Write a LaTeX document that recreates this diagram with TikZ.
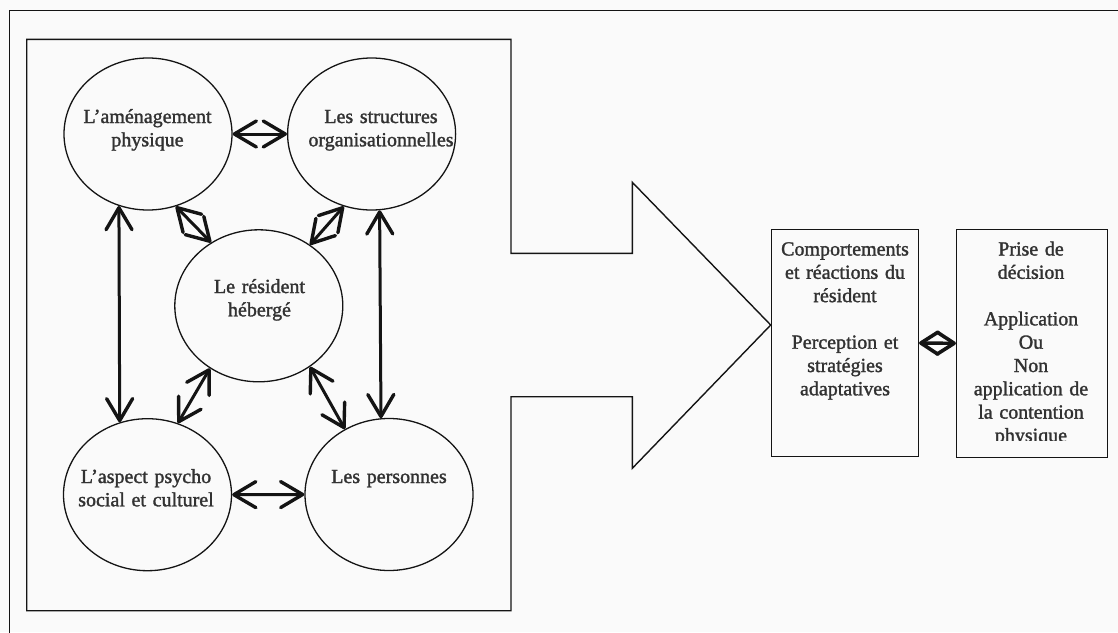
\documentclass[tikz,border=0pt]{standalone}
\usepackage{fontspec}
\setmainfont{Liberation Serif}[FakeBold=1.5]
\usetikzlibrary{arrows.meta,shapes.geometric}
\definecolor{bgc}{RGB}{250,250,250}
\definecolor{ink}{RGB}{20,20,20}
\definecolor{txt}{RGB}{50,50,50}
\begin{document}
\begin{tikzpicture}[x=1pt,y=-1pt,
  bub/.style={ellipse,draw=ink,line width=1.3pt,minimum width=168pt,minimum height=152pt,inner sep=0pt},
  lbl/.style={text width=175pt,align=center,anchor=base,inner sep=0pt,font=\fontsize{20}{23.3}\selectfont,text=txt},
  boxlbl/.style={text width=150pt,align=center,anchor=base,inner sep=0pt,font=\fontsize{20}{23.3}\selectfont,text=txt},
  panel/.style={draw=ink,line width=1.5pt,inner sep=0pt},
  barb/.tip={Straight Barb[length=22pt,width=26pt,line width=3.4pt,round]},
  sbarb/.tip={Straight Barb[length=17pt,width=22pt,line width=3.6pt,round]},
  link/.style={draw=ink,line width=3pt,line cap=round,barb-barb},
  smalllink/.style={draw=ink,line width=3.4pt,sbarb-sbarb}
  ]
\useasboundingbox (0,0) rectangle (1118,632);
\fill[bgc] (0,0) rectangle (1118,632);
% outer frame (cropped scan)
\draw[ink,line width=1pt] (9,640) -- (9,10.7) -- (1125,10.7);
% big arrow outline
\coordinate (tip) at (770.7,325);
\draw[ink,line width=1.4pt,line join=miter]
  (26.7,39.3) -- (511,39.3) -- (511,253.3) -- (632.3,253.3) -- (632.3,182.3)
  -- (tip) -- (632.3,468.3) -- (632.3,396.7) -- (511,396.7) -- (511,610.7)
  -- (26.7,610.7) -- cycle;
% circles
\node[bub] (amen) at (148,134) {};
\node[bub] (struct) at (371.6,134) {};
\node[bub] (res) at (258.8,305.8) {};
\node[bub] (aspect) at (147.5,494.7) {};
\node[bub] (pers) at (389,494.5) {};
% circle texts
\node[lbl] (tamen) at (147.5,123) {L’aménagement\\physique};
\node[lbl] (tstruct) at (381,123) {Les structures\\organisationnelles};
\node[lbl] (tres) at (259.5,293) {Le résident\\hébergé};
\node[lbl] (taspect) at (146,483) {L’aspect psycho\\social et culturel};
\node[lbl] (tpers) at (389,483) {Les personnes};
% connectors between circles
\draw[link] (amen.east) -- (struct.west);
\draw[link] (aspect.east) -- (pers.west);
\draw[link] (amen.248.65) -- (aspect.111.35);
\draw[link] (struct.276.3) -- (pers.96.8);
\draw[link] (amen.291.9) -- (res.127.3);
\draw[link] (struct.249.75) -- (res.50.2);
\draw[link] (res.232.4) -- (aspect.67.7);
\draw[link] (res.310.1) -- (pers.124.2);
% right boxes
\node[panel,minimum width=146.6pt,minimum height=227.4pt] (comp) at (845,343) {};
\node[panel,minimum width=150.6pt,minimum height=228pt] (dec) at (1032,343.3) {};
\node[boxlbl] (tcomp) at (845,255.5) {Comportements\\et réactions du\\résident\\[23.3pt]Perception et\\stratégies\\adaptatives};
\begin{scope}
\clip (956.7,229.3) rectangle (1107.3,440.3);
\node[boxlbl] (tdec) at (1031,255.5) {Prise de\\décision\\[23.3pt]Application\\Ou\\Non\\application de\\la contention\\physique};
\end{scope}
\draw[smalllink] (comp.east) -- (dec.west);
\end{tikzpicture}
\end{document}
